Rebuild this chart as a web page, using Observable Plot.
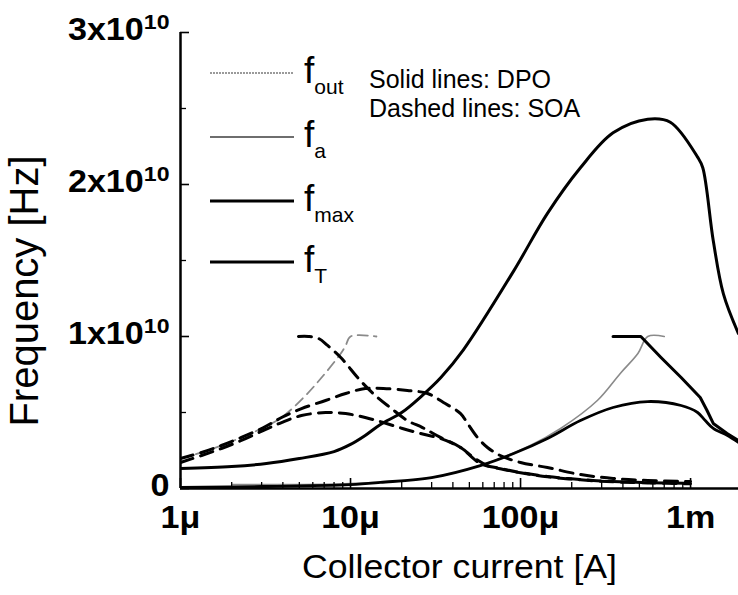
<!DOCTYPE html>
<html><head><meta charset="utf-8">
<script src="https://cdn.jsdelivr.net/npm/d3@7"></script>
<script src="https://cdn.jsdelivr.net/npm/@observablehq/plot@0.6"></script>
<style>
html,body{margin:0;padding:0;background:#fff;}
#chart{position:relative;width:738px;height:595px;}
</style></head><body><div id="chart"></div>
<script>
// ---------- data (current in A, frequency in Hz) ----------
// DPO (solid lines)
const fmaxDpoI = [1e-6, 2e-6, 3.2e-6, 5e-6, 8e-6, 1e-5, 1.22e-5, 1.5e-5, 2e-5, 2.6e-5, 3.4e-5, 4.6e-5, 9.1e-5, 1.44e-4, 2.25e-4, 3.5e-4, 5.6e-4, 7.6e-4, 1.1e-3, 1.18e-3, 1.36e-3, 1.56e-3, 1.91e-3];
const fmaxDpoF = [1.32e9, 1.45e9, 1.64e9, 1.97e9, 2.43e9, 2.9e9, 3.49e9, 4.21e9, 5.0e9, 6.05e9, 7.3e9, 9.1e9, 1.43e10, 1.81e10, 2.11e10, 2.34e10, 2.43e10, 2.41e10, 2.18e10, 2.11e10, 1.63e10, 1.28e10, 1.02e10];
const fTDpoI = [1e-6, 3e-6, 1e-5, 1.5e-5, 3e-5, 5.8e-5, 9.1e-5, 1.44e-4, 2.25e-4, 3.5e-4, 5.6e-4, 8.8e-4, 1.1e-3, 1.22e-3, 1.36e-3, 1.64e-3, 1.91e-3];
const fTDpoF = [0.07e9, 0.13e9, 0.26e9, 0.4e9, 0.72e9, 1.51e9, 2.3e9, 3.29e9, 4.47e9, 5.33e9, 5.72e9, 5.46e9, 5.0e9, 4.47e9, 3.95e9, 3.5e9, 3.03e9];
const foutDpoI = [2e-6, 1e-5, 3e-5, 5.8e-5, 1.14e-4, 1.72e-4, 2.83e-4, 3.86e-4, 4.9e-4, 5.6e-4, 7e-4];
const foutDpoF = [0.26e9, 0.33e9, 0.72e9, 1.51e9, 2.83e9, 3.95e9, 5.79e9, 7.57e9, 8.88e9, 1.0e10, 1.0e10];
const faDpoI = [3.5e-4, 5.1e-4, 6.7e-4, 8.8e-4, 1.14e-3, 1.25e-3, 1.36e-3, 1.64e-3, 1.91e-3];
const faDpoF = [1.0e10, 1.0e10, 8.62e9, 7.3e9, 5.99e9, 5.13e9, 4.28e9, 3.62e9, 3.16e9];
// SOA (dashed lines)
const foutSoaI = [1e-6, 1.33e-6, 1.74e-6, 2.28e-6, 3.08e-6, 3.93e-6, 5.3e-6, 6.76e-6, 8.76e-6, 9.36e-6, 1e-5, 1.42e-5];
const foutSoaF = [1.97e9, 2.37e9, 2.83e9, 3.36e9, 4.01e9, 4.67e9, 5.99e9, 7.3e9, 8.88e9, 9.4e9, 1.0e10, 1.0e10];
const faSoaI = [4.94e-6, 5.66e-6, 6.49e-6, 7.33e-6, 8.76e-6, 1.14e-5, 1.44e-5, 1.71e-5, 2.16e-5, 2.65e-5, 3.38e-5, 4.44e-5, 5.8e-5, 7.6e-5, 1e-4, 1.44e-4, 2.25e-4, 3.5e-4, 5.6e-4, 1e-3];
const faSoaF = [1.0e10, 1.0e10, 9.87e9, 9.41e9, 8.62e9, 7.11e9, 5.99e9, 5.33e9, 4.47e9, 4.01e9, 3.36e9, 2.7e9, 1.64e9, 1.32e9, 1.05e9, 0.79e9, 0.59e9, 0.46e9, 0.39e9, 0.33e9];
const fmaxSoaI = [1e-6, 1.33e-6, 1.74e-6, 2.28e-6, 3.08e-6, 3.93e-6, 5.15e-6, 7.13e-6, 9.36e-6, 1.22e-5, 1.56e-5, 2.16e-5, 2.84e-5, 3.52e-5, 4.44e-5, 4.88e-5, 5.58e-5, 6.39e-5, 7.6e-5, 1e-4, 1.44e-4, 2.25e-4, 3.5e-4, 5.6e-4, 1e-3];
const fmaxSoaF = [1.97e9, 2.37e9, 2.83e9, 3.36e9, 4.01e9, 4.67e9, 5.26e9, 5.79e9, 6.25e9, 6.58e9, 6.58e9, 6.45e9, 6.25e9, 5.66e9, 4.93e9, 4.28e9, 3.36e9, 2.7e9, 2.17e9, 1.71e9, 1.38e9, 0.92e9, 0.66e9, 0.53e9, 0.46e9];
const fTSoaI = [1e-6, 1.33e-6, 1.74e-6, 2.28e-6, 3.08e-6, 3.93e-6, 5.15e-6, 7.13e-6, 9.36e-6, 1.22e-5, 1.56e-5, 2.02e-5, 2.58e-5, 3.38e-5, 4.44e-5, 5.29e-5, 6.39e-5, 7.6e-5, 1e-4, 1.44e-4, 2.25e-4, 3.5e-4, 5.6e-4, 1e-3];
const fTSoaF = [1.71e9, 2.17e9, 2.63e9, 3.16e9, 3.82e9, 4.34e9, 4.8e9, 5.0e9, 4.93e9, 4.67e9, 4.34e9, 3.95e9, 3.62e9, 3.29e9, 2.7e9, 2.04e9, 1.51e9, 1.3e9, 1.03e9, 0.77e9, 0.57e9, 0.44e9, 0.37e9, 0.31e9];

// axes / ticks / labels
const xMajor = [1e-6, 1e-5, 1e-4, 1e-3];
const xMajorLabels = ["1\u03bc", "10\u03bc", "100\u03bc", "1m"];
const xMinor = [1e-6, 1e-5, 1e-4].flatMap(d => [2,3,4,5,6,7,8,9].map(k => k * d));
const yMajor = [0, 1e10, 2e10, 3e10];
const yMajorLabels = ["0", "1x10", "2x10", "3x10"];
const yExponent = "10";
const yMinor = [0.5e10, 1.5e10, 2.5e10];
const xTitle = "Collector current [A]";
const yTitle = "Frequency [Hz]";
const legendMain = ["f", "f", "f", "f"];
const legendSub = ["out", "a", "max", "T"];
const noteLines = ["Solid lines: DPO", "Dashed lines: SOA"];

const zip = (I, F) => I.map((x, i) => ({I: x, f: F[i]}));

const FONT = "'Liberation Sans', Arial, Helvetica, sans-serif";
const W = 738, H = 595, mL = 180, mT = 32, mR = 0, mB = 107;
const frameW = W - mL - mR, frameH = H - mT - mB;

const dash = "13,8";
const plot = Plot.plot({
  width: W, height: H,
  marginLeft: mL, marginTop: mT, marginRight: mR, marginBottom: mB,
  style: {fontFamily: FONT, background: "#fff", color: "#000"},
  x: {type: "log", domain: [1e-6, 1.914e-3], axis: null},
  y: {domain: [0, 3e10], axis: null},
  marks: [
    // gray thin lines
    Plot.line(zip(foutDpoI, foutDpoF), {x: "I", y: "f", stroke: "#8a8a8a", strokeWidth: 1.6, curve: "catmull-rom", clip: true}),
    Plot.line(zip(foutSoaI, foutSoaF), {x: "I", y: "f", stroke: "#8a8a8a", strokeWidth: 1.8, strokeDasharray: "10,6", curve: "catmull-rom", clip: true}),
    // solid (DPO)
    Plot.line(zip(fmaxDpoI, fmaxDpoF), {x: "I", y: "f", stroke: "#000", strokeWidth: 3, curve: "catmull-rom", clip: true}),
    Plot.line(zip(fTDpoI, fTDpoF), {x: "I", y: "f", stroke: "#000", strokeWidth: 2.8, curve: "catmull-rom", clip: true}),
    Plot.line(zip(faDpoI, faDpoF), {x: "I", y: "f", stroke: "#000", strokeWidth: 3, curve: "linear", clip: true}),
    // dashed (SOA)
    Plot.line(zip(faSoaI, faSoaF), {x: "I", y: "f", stroke: "#000", strokeWidth: 3, strokeDasharray: dash, curve: "catmull-rom", clip: true}),
    Plot.line(zip(fmaxSoaI, fmaxSoaF), {x: "I", y: "f", stroke: "#000", strokeWidth: 3, strokeDasharray: dash, curve: "catmull-rom", clip: true}),
    Plot.line(zip(fTSoaI, fTSoaF), {x: "I", y: "f", stroke: "#000", strokeWidth: 3, strokeDasharray: dash, curve: "catmull-rom", clip: true}),
    // axis lines
    Plot.ruleX([1e-6], {stroke: "#000", strokeWidth: 2.5}),
    Plot.ruleY([0], {stroke: "#000", strokeWidth: 2.5}),
    // inward ticks
    Plot.tickX(xMajor, {x: d => d, stroke: "#000", strokeWidth: 1.6, insetTop: frameH - 10}),
    Plot.tickX(xMinor, {x: d => d, stroke: "#000", strokeWidth: 1.3, insetTop: frameH - 6}),
    Plot.tickY(yMajor, {y: d => d, stroke: "#000", strokeWidth: 1.6, insetRight: frameW - 9}),
    Plot.tickY(yMinor, {y: d => d, stroke: "#000", strokeWidth: 1.3, insetRight: frameW - 6}),
    // tick labels
    Plot.text(xMajor, {x: d => d, text: (d, i) => xMajorLabels[i], frameAnchor: "bottom", lineAnchor: "top", dy: 17, fontSize: 31, fontWeight: "bold", fill: "#000", className: "xlab"}),
    Plot.text(yMajor, {y: d => d, text: (d, i) => yMajorLabels[i], frameAnchor: "left", textAnchor: "end", dx: -11, dy: -2, fontSize: 31, fontWeight: "bold", fill: "#000", className: "ylab"}),
    // x axis title
    Plot.text([xTitle], {text: d => d, frameAnchor: "bottom", dy: 89, fontSize: 33, fill: "#000", className: "xtitle"})
  ]
});

document.getElementById("chart").appendChild(plot);
const svg = d3.select(plot);

// superscript exponents on y tick labels
svg.selectAll("g.ylab text").each(function () {
  const t = this.textContent;
  if (t.endsWith("x10")) {
    d3.select(this).append("tspan").attr("dy", "-0.55em").attr("font-size", 21).text(yExponent);
  }
});

// horizontal stretch to mimic the wide lettering of the original
function stretch(sel, k) {
  sel.each(function () {
    const L = this.getComputedTextLength();
    this.setAttribute("textLength", (L * k).toFixed(1));
    this.setAttribute("lengthAdjust", "spacingAndGlyphs");
  });
}
stretch(svg.selectAll("g.xlab text"), 1.1);
stretch(svg.selectAll("g.ylab text"), 1.1);
stretch(svg.selectAll("g.xtitle text"), 1.08);

// y axis title
svg.append("text")
  .attr("transform", "translate(24,291) rotate(-90)")
  .attr("text-anchor", "middle").attr("dy", "0.35em")
  .attr("font-family", FONT).attr("font-size", 40).attr("fill", "#000")
  .text(yTitle);

// legend
const rows = [73, 137, 201, 262];
const swatch = [
  {stroke: "#9a9a9a", w: 2, dash: "2,1"},
  {stroke: "#6e6e6e", w: 2, dash: null},
  {stroke: "#000", w: 3, dash: null},
  {stroke: "#000", w: 3, dash: null}
];
const leg = svg.append("g").attr("font-family", FONT).attr("fill", "#000").attr("text-anchor", "start");
legendMain.forEach((m, i) => {
  const y = rows[i];
  const l = leg.append("line").attr("x1", 210).attr("x2", 294).attr("y1", y).attr("y2", y)
    .attr("stroke", swatch[i].stroke).attr("stroke-width", swatch[i].w);
  if (swatch[i].dash) l.attr("stroke-dasharray", swatch[i].dash);
  const t = leg.append("text").attr("x", 304).attr("y", y + 10).attr("font-size", 37).text(m);
  t.append("tspan").attr("dy", 11).attr("font-size", 21).text(legendSub[i]);
});
noteLines.forEach((s, i) => {
  leg.append("text").attr("x", 369).attr("y", 88 + i * 29).attr("font-size", 25).text(s);
});
</script>
</body></html>
